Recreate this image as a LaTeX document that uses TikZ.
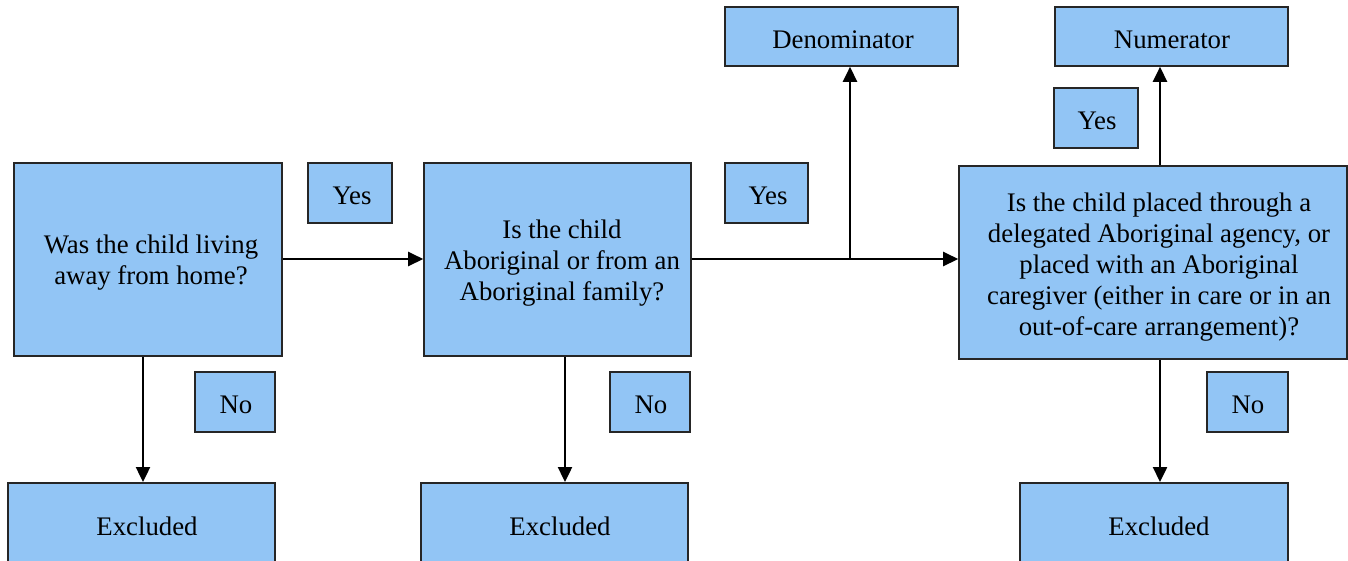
\documentclass[tikz,border=0pt]{standalone}
\usepackage{fontspec}
\setmainfont{Liberation Serif}
\usetikzlibrary{arrows.meta}
\definecolor{boxblue}{RGB}{146,197,245}
\tikzset{
  box/.style={draw=black!85, line width=1.6pt, fill=boxblue, align=center, inner sep=0pt,
    font=\fontsize{26.8}{31}\selectfont},
  lbl/.style={font=\fontsize{26.8}{31}\selectfont},
  conn/.style={line width=2.4pt, -{Triangle[length=15pt,width=14pt]}},
  plain/.style={line width=2.4pt}
}
\begin{document}
\begin{tikzpicture}[x=1pt,y=-1pt]
\useasboundingbox (0,0) rectangle (1348,560);
\clip (0,0) rectangle (1348,560);
\node[box, minimum width=268, minimum height=193] (q1) at (148,259.5) {};
\node[lbl, align=center] at (151,263) {Was the child living\\away from home?};
\node[box, minimum width=267, minimum height=193] (q2) at (557.5,259.5) {};
\node[lbl, align=center] at (562,263) {Is the child\\Aboriginal or from an\\Aboriginal family?};
\node[box, minimum width=388, minimum height=193] (q3) at (1153,262.5) {};
\node[lbl, align=center] at (1159,267) {Is the child placed through a\\delegated Aboriginal agency, or\\placed with an Aboriginal\\caregiver (either in care or in an\\out-of-care arrangement)?};
\node[box, minimum width=84, minimum height=60] (y1) at (350,193) {};
\node[lbl] at (352,196) {Yes};
\node[box, minimum width=83, minimum height=60] (y2) at (766.5,193) {};
\node[lbl] at (768,196) {Yes};
\node[box, minimum width=84, minimum height=60] (y3) at (1096,118) {};
\node[lbl] at (1097,121) {Yes};
\node[box, minimum width=233, minimum height=59] (den) at (841.5,36.5) {};
\node[lbl] at (843,40) {Denominator};
\node[box, minimum width=233, minimum height=59] (num) at (1171.5,36.5) {};
\node[lbl] at (1172,40) {Numerator};
\node[box, minimum width=80, minimum height=60] (n1) at (235,402) {};
\node[lbl] at (236,405) {No};
\node[box, minimum width=80, minimum height=60] (n2) at (650,402) {};
\node[lbl] at (651,405) {No};
\node[box, minimum width=81, minimum height=60] (n3) at (1247.5,402) {};
\node[lbl] at (1248,405) {No};
\node[box, minimum width=267, minimum height=84, anchor=north] (e1) at (141.5,482) {};
\node[box, minimum width=267, minimum height=84, anchor=north] (e2) at (554.5,482) {};
\node[box, minimum width=268, minimum height=84, anchor=north] (e3) at (1154,482) {};
\node[lbl] at (147,526) {Excluded};
\node[lbl] at (560,526) {Excluded};
\node[lbl] at (1159,526) {Excluded};
\coordinate (j) at (850,259);
\draw[conn] (q1.east |- 0,259) -- (q2.west |- 0,259);
\draw[plain] (q2.east |- 0,259) -- (j);
\draw[conn] (j) -- (q3.west |- 0,259);
\draw[conn] (j) -- (den.south -| j);
\draw[conn] (q3.north -| 1160,0) -- (num.south -| 1160,0);
\draw[conn] (q1.south -| 143,0) -- (e1.north -| 143,0);
\draw[conn] (q2.south -| 565,0) -- (e2.north -| 565,0);
\draw[conn] (q3.south -| 1160,0) -- (e3.north -| 1160,0);
\end{tikzpicture}
\end{document}
